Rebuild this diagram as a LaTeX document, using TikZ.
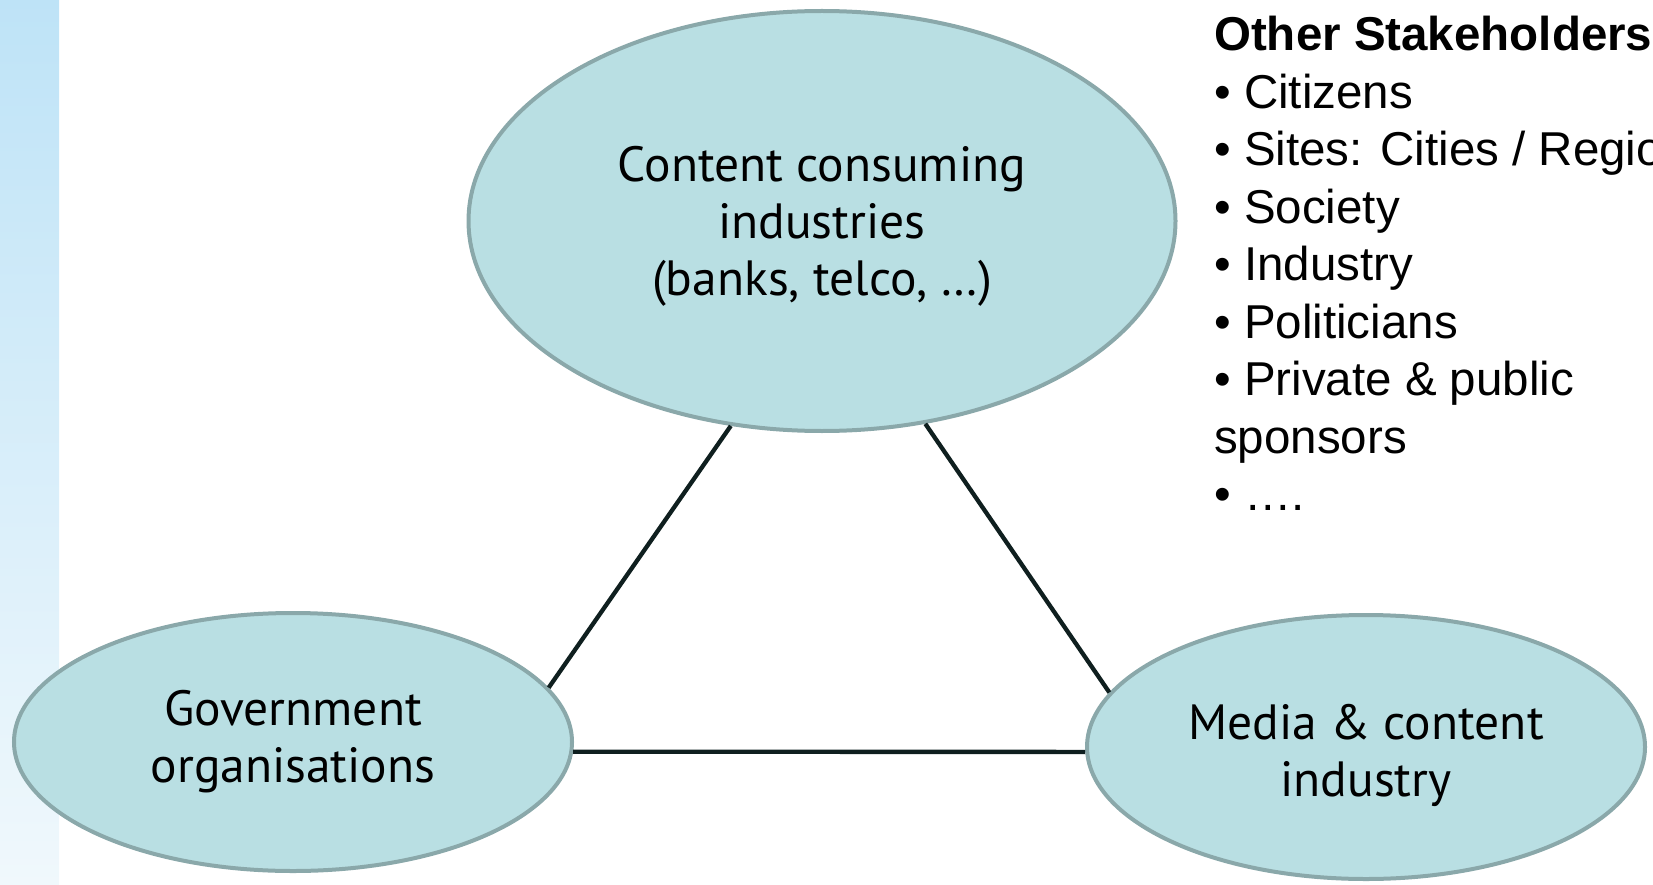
\documentclass[tikz,border=0pt]{standalone}
\usepackage{fontspec}
\setmainfont{Liberation Sans}
\newfontfamily\bubblefont{PT Sans}
\usepackage{tikz}
\usetikzlibrary{shapes.geometric}

\definecolor{bubblefill}{HTML}{B9DFE3}
\definecolor{bubbleline}{HTML}{8AA8AA}
\definecolor{linkline}{HTML}{0F1F1F}
\definecolor{stripTop}{HTML}{BEE3F7}
\definecolor{stripBottom}{HTML}{F0F8FC}

\tikzset{
	bubble/.style={ellipse, draw=bubbleline, fill=bubblefill, line width=4pt,
		inner sep=0pt, align=center, font=\bubblefont\fontsize{49.5}{57}\selectfont},
	link/.style={draw=linkline, line width=4.3pt}
}

\begin{document}
\begin{tikzpicture}[x=1pt, y=-1pt]
		\useasboundingbox (0,0) rectangle (1653,885);
		\shade [top color=stripTop, bottom color=stripBottom] (0,0) rectangle (59,885);

		% the struts push the first lines down inside the bubbles
		\node [bubble, minimum width=707pt, minimum height=420pt] (consumers) at (822,221)
			{\rule{0pt}{46pt}Content consuming\\industries\\(banks, telco, …)};
		\node [bubble, minimum width=558pt, minimum height=258pt] (government) at (293,742)
			{Government\\organisations};
		\node [bubble, minimum width=558pt, minimum height=264pt] (media) at (1366,747)
			{\rule{0pt}{52pt}Media \& content\\industry};

		\draw [link] (consumers.246) -- (government.12);
		\draw [link] (consumers.297) -- (media.168);
		\draw [link] (government.-2) -- (media.181);

		\node [anchor=north west, inner sep=0pt, align=left,
			font=\fontsize{47.5}{57.5}\selectfont] (others) at (1214,16)
			{\textbf{Other Stakeholders}\\• Citizens\\• Sites: Cities / Regions\\• Society\\• Industry\\• Politicians\\• Private \& public\\sponsors\\• ….};
	\end{tikzpicture}
\end{document}
